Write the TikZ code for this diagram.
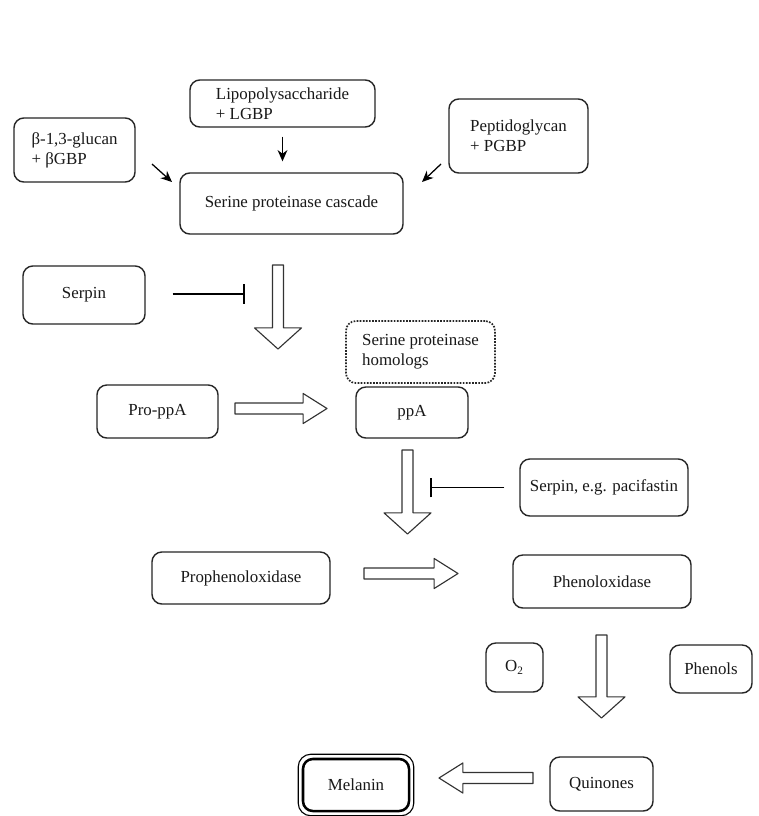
\documentclass[tikz,border=0pt]{standalone}
\usepackage{fontspec}
\setmainfont{Liberation Serif}
\usetikzlibrary{arrows.meta, calc}

\begin{document}
\begin{tikzpicture}[x=0.025cm, y=-0.025cm, line join=round,
	font=\fontsize{12}{14.4}\selectfont,
	box/.style={draw=black!85, line width=1pt, rounded corners=7pt, align=left, text=black!90},
	dots/.style={box, dash pattern=on 1.2pt off 1pt, line width=1.2pt},
	melbox/.style={box, line width=1.8pt, draw=black},
	pointer/.style={-{Stealth[length=8pt, width=7pt]}, line width=0.9pt},
	inhibit/.style={-{Bar[width=14pt, line width=1.3pt]}, line width=1.1pt},
	fat/.style 2 args={draw=black!80, line width=0.8pt, fill=white, to path={
		($(\tikztostart)!3.9pt!90:(\tikztotarget)$)
		-- ($(\tikztotarget)!#2!(\tikztostart)!3.9pt!90:(\tikztotarget)$)
		-- ($(\tikztotarget)!#2!(\tikztostart)!#1!90:(\tikztotarget)$)
		-- (\tikztotarget)
		-- ($(\tikztotarget)!#2!(\tikztostart)!#1!-90:(\tikztotarget)$)
		-- ($(\tikztotarget)!#2!(\tikztostart)!3.9pt!-90:(\tikztotarget)$)
		-- ($(\tikztostart)!3.9pt!-90:(\tikztotarget)$) -- cycle}},
	fatv/.style={fat={16.7pt}{15pt}},
	fath/.style={fat={10.7pt}{17pt}}]

\fill[white] (0,0) rectangle (758,816);
\useasboundingbox (0,0) rectangle (758,816);

% ===== Recognition =====
\node[box, minimum width=4.625cm, minimum height=1.175cm] (lps) at (282.5,103.5) {Lipopolysaccharide\\+ LGBP};
\node[box, minimum width=3.025cm, minimum height=1.6cm] (glucan) at (74.5,150) {β-1,3-glucan\\+ βGBP};
\node[box, minimum width=3.475cm, minimum height=1.85cm] (pgn) at (518.5,136) {Peptidoglycan\\+ PGBP};
\node[box, minimum width=5.575cm, minimum height=1.525cm] (cascade) at (291.5,203.5) {Serine proteinase cascade};

\coordinate (g1) at (152,164);
\coordinate (g2) at (172,182);
\coordinate (p1) at (441,164);
\coordinate (p2) at (422,182);
\draw[pointer, shorten <=6.4pt, shorten >=7.8pt] (lps.south) -- (lps.south |- cascade.north);
\draw[pointer] (g1) -- (g2);
\draw[pointer] (p1) -- (p2);

% ===== ppA activation =====
\node[box, minimum width=3.05cm, minimum height=1.45cm] (serpin) at (84,295) {Serpin};
\node[dots, minimum width=3.725cm, minimum height=1.55cm] (homologs) at (420.5,352) {Serine proteinase\\homologs};
\node[box, minimum width=3.025cm, minimum height=1.325cm] (proppa) at (157.5,411.5) {Pro-ppA};
\node[box, minimum width=2.8cm, minimum height=1.275cm] (ppa) at (412,412.5) {ppA};

\coordinate (a1) at (278,265);
\coordinate (a2) at (278,349);
\coordinate (b1) at (235,408.5);
\coordinate (b2) at (327,408.5);
\coordinate (stopA) at (245,294);
\draw[fatv] (a1) to (a2);
\draw[fath] (b1) to (b2);
\draw[inhibit] (serpin.east |- stopA) ++(27,0) -- (stopA);

% ===== proPO activation =====
\node[box, minimum width=4.2cm, minimum height=1.425cm] (pacif) at (604,487.5) {Serpin, e.g. pacifastin};
\node[box, minimum width=4.45cm, minimum height=1.3cm] (propo) at (241,578) {Prophenoloxidase};
\node[box, minimum width=4.45cm, minimum height=1.325cm] (po) at (602,581.5) {Phenoloxidase};

\coordinate (c1) at (407.5,450);
\coordinate (c2) at (407.5,534);
\coordinate (d1) at (364,573.5);
\coordinate (d2) at (458,573.5);
\coordinate (stopB) at (430,487.5);
\draw[fatv] (c1) to (c2);
\draw[fath] (d1) to (d2);
\draw[inhibit] (pacif.west) ++(-15,0) -- (stopB);

% ===== Melanization =====
\node[box, minimum width=1.425cm, minimum height=1.225cm] (otwo) at (514.5,667.5) {O\textsubscript{2}};
\node[box, minimum width=2.05cm, minimum height=1.2cm] (phenols) at (711,669) {Phenols};
\node[box, minimum width=2.575cm, minimum height=1.35cm] (quin) at (601.5,784) {Quinones};
\node[melbox, minimum width=2.65cm, minimum height=1.3cm] (melanin) at (356,785) {Melanin};
\draw[line width=0.8pt, rounded corners=9pt] ($(melanin.north west)+(-3.5,-3.5)$) rectangle ($(melanin.south east)+(3.5,3.5)$);

\coordinate (e1) at (601.5,635);
\coordinate (e2) at (601.5,718);
\coordinate (f1) at (533,778);
\coordinate (f2) at (439,778);
\draw[fatv] (e1) to (e2);
\draw[fath] (f1) to (f2);

\end{tikzpicture}
\end{document}
